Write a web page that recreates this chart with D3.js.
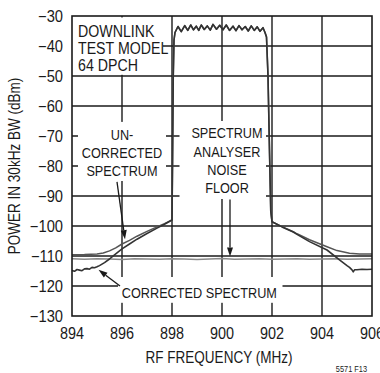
<!DOCTYPE html>
<html>
<head>
<meta charset="utf-8">
<script src="https://cdn.jsdelivr.net/npm/d3@7/dist/d3.min.js"></script>
<style>
  html, body { margin: 0; padding: 0; background: #fff; }
  svg { display: block; }
  text { font-family: "Liberation Sans", Arial, sans-serif; fill: #1a1a1a; }
</style>
</head>
<body>
<svg id="chart" width="380" height="373"></svg>
<script>
// ---------- data ----------
const freqTicks = [894, 896, 898, 900, 902, 904, 906];
const powerTicks = [-130, -120, -110, -100, -90, -80, -70, -60, -50, -40, -30];

// in-band channel (shared top of both traces)
const channelFreq = [898.00, 898.02, 898.05, 898.08, 898.12, 898.24, 898.37, 898.51, 898.63, 898.75, 898.86, 898.97, 899.07, 899.17, 899.29, 899.41, 899.53, 899.64, 899.78, 899.91, 900.04, 900.17, 900.30, 900.44, 900.56, 900.68, 900.80, 900.93, 901.05, 901.17, 901.29, 901.41, 901.52, 901.64, 901.72, 901.78, 901.84, 901.90, 901.95, 902.00];
const channelPower = [-98, -80, -50, -38, -35.5, -33.5, -35.2, -33.2, -34.8, -33.0, -34.6, -33.4, -34.8, -33.0, -34.5, -33.3, -34.7, -32.8, -34.4, -33.1, -34.6, -33.0, -34.8, -33.4, -34.9, -33.2, -34.6, -33.5, -35.0, -33.3, -34.8, -33.6, -35.1, -33.9, -35.5, -37, -50, -75, -95, -98.6];

// uncorrected spectrum skirts
const uncorrLeftFreq = [894.0, 894.5, 895.0, 895.25, 895.5, 895.75, 896.0, 896.3, 896.6, 897.0, 897.4, 897.7, 898.0];
const uncorrLeftPower = [-109.6, -109.5, -109.3, -109.0, -108.3, -107.3, -106.0, -104.8, -103.4, -101.8, -100.3, -99.2, -98.0];
const uncorrRightFreq = [902.0, 902.4, 902.85, 903.0, 903.5, 904.2, 904.6, 905.1, 905.5, 906.0];
const uncorrRightPower = [-98.6, -100.2, -101.9, -102.6, -104.6, -106.9, -108.2, -109.1, -109.3, -109.3];

// corrected spectrum skirts
const corrLeftFreq = [894.0, 894.1, 894.2, 894.3, 894.4, 894.5, 894.6, 894.7, 894.8, 894.9, 895.0, 895.1, 895.3, 895.5, 895.7, 896.0, 896.3, 896.6, 897.0, 897.4, 897.7, 898.0];
const corrLeftPower = [-114.8, -115.1, -114.5, -114.7, -114.9, -114.3, -114.2, -114.4, -113.8, -113.9, -113.6, -113.2, -112.2, -111.0, -109.6, -107.6, -106.0, -104.4, -102.5, -100.7, -99.4, -98.0];
const corrRightFreq = [902.0, 902.4, 902.85, 903.0, 903.5, 904.2, 904.7, 905.0, 905.1, 905.2, 905.25, 905.3, 905.4, 905.6, 905.8, 906.0];
const corrRightPower = [-98.6, -100.3, -102.0, -102.8, -105.2, -108.0, -111.3, -113.2, -113.8, -114.6, -115.3, -114.6, -114.6, -114.4, -114.5, -114.4];

// spectrum analyser noise floor
const noiseFreq = [894.0, 894.5, 895.0, 895.5, 896.0, 896.5, 897.0, 897.5, 898.0, 898.5, 899.0, 899.5, 900.0, 900.5, 901.0, 901.5, 902.0, 902.5, 903.0, 903.5, 904.0, 904.5, 905.0, 905.5, 906.0];
const noisePower = [-110.9, -111.1, -110.9, -111.0, -111.2, -110.9, -111.0, -111.1, -110.9, -111.0, -111.2, -111.0, -110.8, -111.1, -111.0, -110.9, -111.1, -111.0, -110.9, -111.1, -111.0, -110.9, -111.1, -111.0, -110.9];

// annotation texts
const annoDownlink = ["DOWNLINK", "TEST MODEL", "64 DPCH"];
const annoUncorr = ["UN-", "CORRECTED", "SPECTRUM"];
const annoNoise = ["SPECTRUM", "ANALYSER", "NOISE", "FLOOR"];
const annoCorr = ["CORRECTED SPECTRUM"];

// ---------- layout ----------
const svg = d3.select("#chart");
const x = d3.scaleLinear().domain([894, 906]).range([72, 372]);
const y = d3.scaleLinear().domain([-130, -30]).range([316, 16]);
const ink = "#1a1a1a";

// gridlines
const grid = svg.append("g");
grid.selectAll("line.v").data(freqTicks.slice(1, -1)).join("line")
  .attr("x1", d => x(d)).attr("x2", d => x(d))
  .attr("y1", y(-30)).attr("y2", y(-130))
  .attr("stroke", ink).attr("stroke-width", 1.4);
grid.selectAll("line.h").data(powerTicks.slice(1, -1)).join("line")
  .attr("y1", d => y(d)).attr("y2", d => y(d))
  .attr("x1", x(894)).attr("x2", x(906))
  .attr("stroke", ink).attr("stroke-width", 1.4);

// traces
const line = d3.line().x(d => x(d[0])).y(d => y(d[1]));
const zip = (a, b) => a.map((v, i) => [v, b[i]]);

svg.append("path").datum(zip(noiseFreq, noisePower)).attr("d", line)
  .attr("fill", "none").attr("stroke", "#8a8a8a").attr("stroke-width", 1.5);

const uncorr = zip(uncorrLeftFreq, uncorrLeftPower).concat(zip(channelFreq, channelPower)).concat(zip(uncorrRightFreq, uncorrRightPower));
const corr = zip(corrLeftFreq, corrLeftPower).concat(zip(channelFreq, channelPower)).concat(zip(corrRightFreq, corrRightPower));
svg.append("path").datum(uncorr).attr("d", line)
  .attr("fill", "none").attr("stroke", "#555").attr("stroke-width", 1.5).attr("stroke-linejoin", "round");
svg.append("path").datum(corr).attr("d", line)
  .attr("fill", "none").attr("stroke", "#333").attr("stroke-width", 1.6).attr("stroke-linejoin", "round");

// white label boxes (data-unit extents)
const boxes = [
  [894.0, 897.64, -30.5, -49.6],
  [894.24, 897.76, -65.3, -85.0],
  [898.3, 901.76, -65.0, -91.0],
  [895.84, 902.42, -117.0, -125.6]
];
svg.append("g").selectAll("rect").data(boxes).join("rect")
  .attr("x", d => x(d[0])).attr("width", d => x(d[1]) - x(d[0]))
  .attr("y", d => y(d[2])).attr("height", d => y(d[3]) - y(d[2]))
  .attr("fill", "#fff");

// frame
svg.append("rect").attr("x", x(894)).attr("y", y(-30))
  .attr("width", x(906) - x(894)).attr("height", y(-130) - y(-30))
  .attr("fill", "none").attr("stroke", ink).attr("stroke-width", 1.6);

// condensed text helper
function ntext(sel, px, py, anchor, size, sx, rot) {
  return sel.attr("transform", `translate(${px},${py})${rot ? " rotate(" + rot + ")" : ""} scale(${sx},1)`)
    .attr("text-anchor", anchor).attr("font-size", size);
}

// annotation texts
function block(lines, fx, py0, step, anchor, size, sx) {
  svg.append("g").selectAll("text").data(lines).join("text")
    .each(function (d, i) { ntext(d3.select(this), x(fx), y(py0) + i * step, anchor, size, sx); })
    .text(d => d);
}
block(annoDownlink, 894.24, -37, 17.2, "start", 16.5, 0.86);
block(annoUncorr, 896.0, -71.3, 18, "middle", 15.5, 0.82);
block(annoNoise, 900.2, -70.8, 18.3, "middle", 15.5, 0.82);
block(annoCorr, 895.99, -124, 0, "start", 15.5, 0.82);

// arrows
const arrows = [
  [895.8, -85.3, 896.12, -104.4],
  [900.32, -91.2, 900.32, -110.2],
  [895.92, -120.0, 895.06, -114.6]
];
const ag = svg.append("g");
arrows.forEach(a => {
  const x1 = x(a[0]), y1 = y(a[1]), x2 = x(a[2]), y2 = y(a[3]);
  const ang = Math.atan2(y2 - y1, x2 - x1);
  const L = 9, W = 3;
  const bx = x2 - L * Math.cos(ang), by = y2 - L * Math.sin(ang);
  ag.append("line").attr("x1", x1).attr("y1", y1).attr("x2", bx).attr("y2", by)
    .attr("stroke", ink).attr("stroke-width", 1.3);
  ag.append("path")
    .attr("d", `M${x2},${y2}L${bx - W * Math.sin(ang)},${by + W * Math.cos(ang)}L${bx + W * Math.sin(ang)},${by - W * Math.cos(ang)}Z`)
    .attr("fill", ink);
});

// tick labels
svg.append("g").selectAll("text").data(powerTicks).join("text")
  .each(function (d) { ntext(d3.select(this), 63, y(d) + 6, "end", 16, 0.92); })
  .text(d => (d < 0 ? "\u2212" : "") + Math.abs(d));
svg.append("g").selectAll("text").data(freqTicks).join("text")
  .each(function (d) { ntext(d3.select(this), x(d), 339, "middle", 16, 0.9); })
  .text(d => d);

// axis titles
ntext(svg.append("text"), x(900) - 3, 363, "middle", 16.5, 0.82).text("RF FREQUENCY (MHz)");
ntext(svg.append("text"), 20, y(-80), "middle", 16.5, 0.82, -90).text("POWER IN 30kHz BW (dBm)");

ntext(svg.append("text"), 367, 372, "end", 9, 0.82).text("5571 F13");
</script>
</body>
</html>
